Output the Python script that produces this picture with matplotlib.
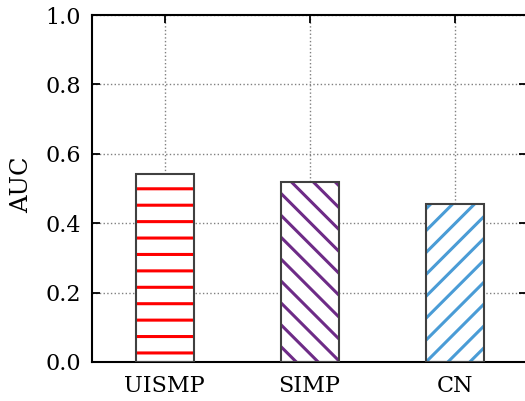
import matplotlib
matplotlib.use("Agg")
import matplotlib.pyplot as plt
import numpy as np

methods = ["UISMP", "SIMP", "CN"]
auc = [0.542, 0.519, 0.455]
hatches = ["--", "\\\\\\", "///"]
colors = ["#FF0000", "#6E2B87", "#4A9CD6"]

# hatch spacing is tied to the dpi, so render at a high dpi and scale
# every point-based size back down to keep the 525x401 px layout
DPI = 197
S = 100 / DPI

plt.rcParams["font.family"] = ["DejaVu Serif"]
plt.rcParams["hatch.linewidth"] = 2.2 * S

fig = plt.figure(figsize=(525 / DPI, 401 / DPI), dpi=DPI)
ax = fig.add_axes([92 / 525, 1 - 362 / 401, 435 / 525, 347 / 401])

x = np.arange(len(methods))
width = 0.4

# hatch colour follows the edge colour, so draw the pattern and the outline separately
for xi, val, h, c in zip(x, auc, hatches, colors):
    ax.bar(xi, val, width, color="white", edgecolor=c, hatch=h, linewidth=0, zorder=2)
ax.bar(x, auc, width, fill=False, edgecolor="#404040", linewidth=1.5 * S, zorder=3)

ax.set_xlim(-0.5, 2.5)
ax.set_ylim(0, 1.0)
ax.set_xticks(x)
ax.set_xticklabels(methods)
ax.set_yticks(np.arange(0, 1.01, 0.2))
ax.set_yticklabels([f"{v:.1f}" for v in np.arange(0, 1.01, 0.2)])
ax.set_ylabel("AUC", fontsize=17.5 * S, labelpad=6 * S)
ax.yaxis.set_label_coords(-0.135, 0.51)

ax.tick_params(direction="in", top=True, right=True, length=6 * S, width=1.3 * S,
               labelsize=16 * S)
ax.tick_params(axis="x", pad=9 * S)
ax.tick_params(axis="y", pad=8 * S)
ax.grid(True, linestyle=":", color="#808080", linewidth=1.0 * S, zorder=0)
ax.set_axisbelow(True)
for s in ax.spines.values():
    s.set_linewidth(1.5 * S)

fig.savefig("out.png", dpi=DPI)
